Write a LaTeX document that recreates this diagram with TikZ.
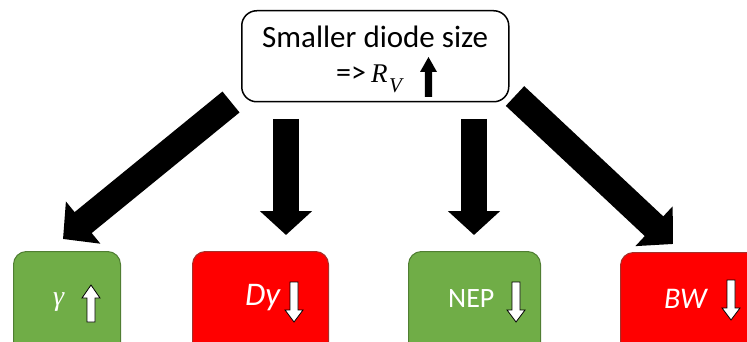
\documentclass[tikz,border=0pt]{standalone}
\usepackage{fontspec}
\setmainfont{Carlito}
\newfontfamily\seriffont{Liberation Serif}
\usetikzlibrary{arrows.meta}
\definecolor{boxgreen}{HTML}{70AD47}
\definecolor{greenline}{HTML}{507E32}
\definecolor{boxred}{HTML}{FF0000}
\definecolor{redline}{HTML}{A5302A}
\tikzset{
  topbox/.style={draw=black, line width=1.5pt, rounded corners=15pt, fill=white, inner sep=0pt, anchor=north west},
  greenbox/.style={draw=greenline, line width=1pt, fill=boxgreen, rounded corners=13pt, inner sep=0pt, anchor=north west},
  redbox/.style={draw=redline, line width=1pt, fill=boxred, rounded corners=13pt, inner sep=0pt, anchor=north west},
  bigarrow/.style={line width=26pt, -{Triangle[length=24pt, width=51pt]}},
  diagarrow/.style={line width=27pt, -{Triangle[length=26pt, width=53pt]}},
  hollow/.style={draw=black, line width=0.8pt, fill=white, line join=miter},
  wtext/.style={text=white, inner sep=0pt, anchor=base west},
  btext/.style={text=black, inner sep=0pt, anchor=base west},
  pics/hollowup/.style={code={
    \path[hollow] (0,0) -- (9,13) -- (4,13) -- (4,37) -- (-4,37) -- (-4,13) -- (-9,13) -- cycle;}},
  pics/hollowdown/.style={code={
    \path[hollow] (0,40) -- (9,28) -- (4,28) -- (4,0) -- (-4,0) -- (-4,28) -- (-9,28) -- cycle;}},
  pics/solidup/.style={code={
    \fill[black] (0,0) -- (8.5,15) -- (3.6,15) -- (3.6,40) -- (-3.6,40) -- (-3.6,15) -- (-8.5,15) -- cycle;}}
}
\begin{document}
\begin{tikzpicture}[x=1pt,y=-1pt]
\useasboundingbox (0,0) rectangle (747,342);
\clip (0,0) rectangle (747,342);

% top box
\node[topbox, minimum width=267pt, minimum height=91pt] (top) at (241,10) {};
\node[btext] (t1) at (262,48) {\fontsize{31}{31}\selectfont Smaller diode size};
\node[btext] (t2) at (336,83) {\fontsize{30}{30}\selectfont =>};
\node[btext] (t3) at (371,83) {\fontsize{27}{27}\selectfont\seriffont\itshape R};
\node[btext] (t4) at (389,93) {\fontsize{21}{21}\selectfont\seriffont\itshape V};
\pic at (428.5,57) {solidup};

% bottom boxes
\node[greenbox, minimum width=107pt, minimum height=110pt] (g1) at (13,251) {};
\node[redbox, minimum width=136pt, minimum height=110pt] (r1) at (192,251) {};
\node[greenbox, minimum width=132pt, minimum height=110pt] (g2) at (408,251) {};
\node[redbox, minimum width=140pt, minimum height=110pt] (r2) at (620,252) {};

% labels
\node[wtext] (lg) at (53,305) {\fontsize{28}{28}\selectfont\seriffont\itshape γ};
\pic at (91,285) {hollowup};
\node[wtext] (ld) at (245,305) {\fontsize{33}{33}\selectfont\itshape Dy};
\pic at (294,282) {hollowdown};
\node[wtext] (ln) at (448,307) {\fontsize{28}{28}\selectfont NEP};
\pic at (516,282) {hollowdown};
\node[wtext] (lb) at (664,308) {\fontsize{30}{30}\selectfont\itshape BW};
\pic at (731,280) {hollowdown};

% connectors
\coordinate (s1) at (231,102);
\coordinate (e1) at (63,239);
\coordinate (s2) at (286,119);
\coordinate (e2) at (286,235);
\coordinate (s3) at (474,119);
\coordinate (e3) at (474,235);
\coordinate (s4) at (515,96);
\coordinate (e4) at (673,244);
\draw[diagarrow] (s1) -- (e1);
\draw[bigarrow] (s2) -- (e2);
\draw[bigarrow] (s3) -- (e3);
\draw[diagarrow] (s4) -- (e4);
\end{tikzpicture}
\end{document}
